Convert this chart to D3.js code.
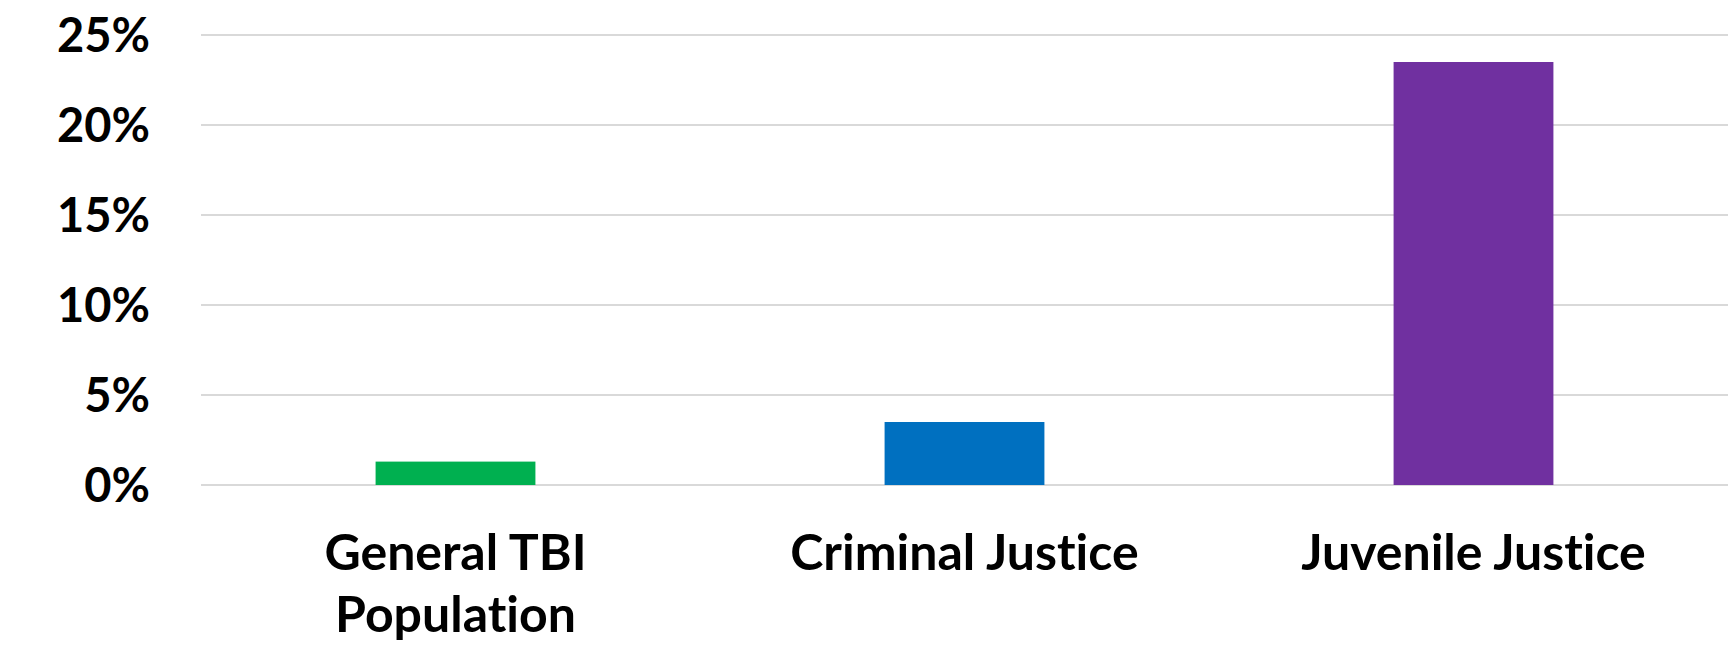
<!DOCTYPE html>
<html>
<head>
<meta charset="utf-8">
<script src="https://cdn.jsdelivr.net/npm/d3@7"></script>
<style>
  html, body { margin: 0; padding: 0; background: #fff; }
  svg text { font-family: Lato, "Open Sans", sans-serif; font-weight: 700; fill: #000; font-variant-ligatures: none; }
</style>
</head>
<body>
<svg id="chart"></svg>
<script>
// Share of each population with TBI
const categories = [["General TBI", "Population"], ["Criminal Justice"], ["Juvenile Justice"]];
const values = [1.3, 3.5, 23.5];
const barColors = ["#00b050", "#0070c0", "#7030a0"];
const yTicks = [0, 5, 10, 15, 20, 25];

const width = 1728;
const height = 646;
const margin = { top: 35, right: 0, bottom: 161, left: 201 };

const svg = d3.select("#chart")
    .attr("width", width)
    .attr("height", height);

const x = d3.scaleBand()
    .domain(d3.range(categories.length))
    .range([margin.left, width - margin.right]);

const y = d3.scaleLinear()
    .domain([0, 25])
    .range([height - margin.bottom, margin.top]);

const barWidth = x.bandwidth() * 0.314;

// gridlines
svg.append("g")
    .selectAll("line")
    .data(yTicks)
    .enter().append("line")
    .attr("x1", margin.left)
    .attr("x2", width - margin.right)
    .attr("y1", d => y(d))
    .attr("y2", d => y(d))
    .attr("stroke", "#d9d9d9")
    .attr("stroke-width", 2);

// y tick labels
svg.append("g")
    .selectAll("text")
    .data(yTicks)
    .enter().append("text")
    .attr("x", 150)
    .attr("y", d => y(d) + 17)
    .attr("text-anchor", "end")
    .attr("font-size", "47px")
    .text(d => d + "%");

// bars
svg.append("g")
    .selectAll("rect")
    .data(values)
    .enter().append("rect")
    .attr("x", (d, i) => x(i) + x.bandwidth() / 2 - barWidth / 2)
    .attr("width", barWidth)
    .attr("y", d => y(d))
    .attr("height", d => y(0) - y(d))
    .attr("fill", (d, i) => barColors[i]);

// category labels
const catLabel = svg.append("g")
    .selectAll("text")
    .data(categories)
    .enter().append("text")
    .attr("text-anchor", "middle")
    .attr("font-size", "50px")
    .attr("y", 570);

catLabel.selectAll("tspan")
    .data(d => d)
    .enter().append("tspan")
    .attr("x", function() {
        const i = categories.indexOf(d3.select(this.parentNode).datum());
        return x(i) + x.bandwidth() / 2;
    })
    .attr("dy", (d, j) => j === 0 ? 0 : 62)
    .text(d => d);
</script>
</body>
</html>
